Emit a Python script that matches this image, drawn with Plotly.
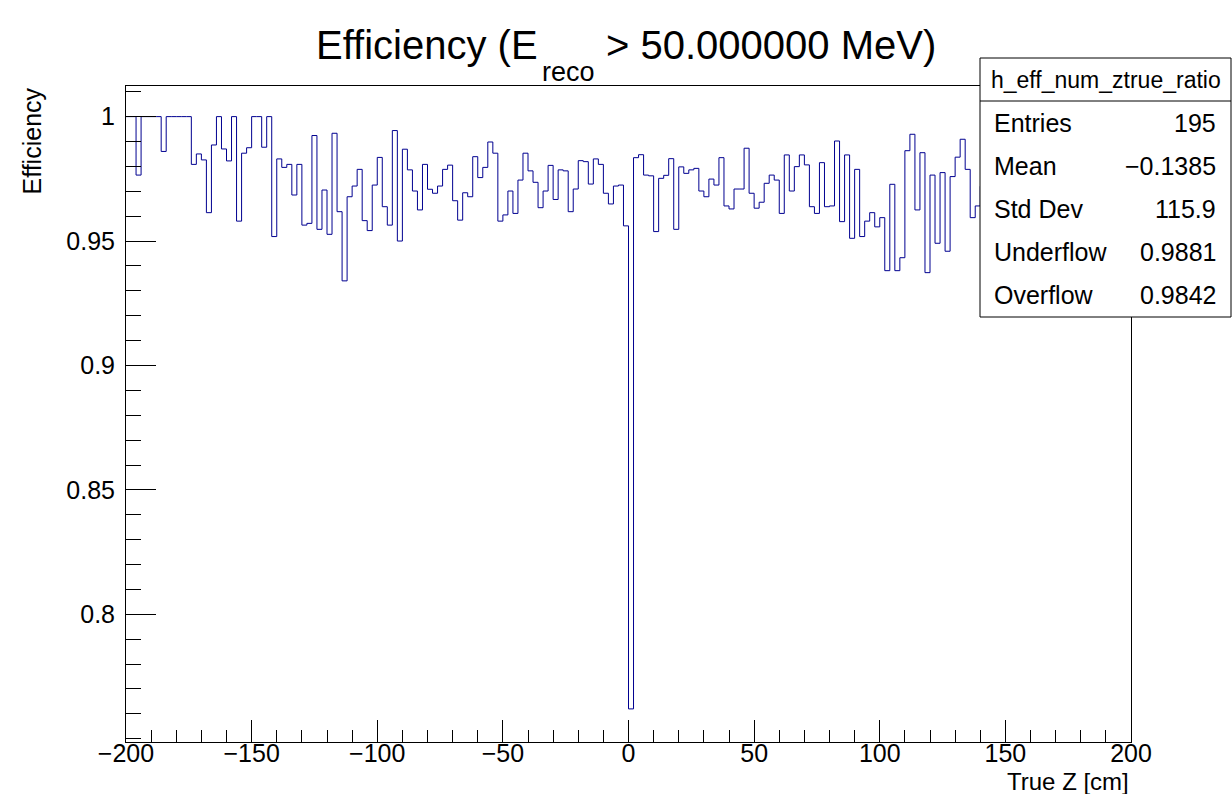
import numpy as np
import plotly.graph_objects as go

# ---------------- data ----------------
x_min, x_max, n_bins = -200.0, 200.0, 200

efficiency = [
    1.0, 1.0, 0.9765, 1.0, 1.0, 1.0, 1.0, 0.986, 1.0, 1.0,
    1.0, 1.0, 1.0, 0.9808, 0.985, 0.9826, 0.9614, 0.9886, 1.0, 0.987,
    0.9822, 1.0, 0.958, 0.9853, 0.9875, 1.0, 1.0, 0.9877, 1.0, 0.9518,
    0.983, 0.9796, 0.9808, 0.9685, 0.9808, 0.9564, 0.9571, 0.9924, 0.9547, 0.9705,
    0.9527, 0.9933, 0.9618, 0.934, 0.9678, 0.9721, 0.9788, 0.9582, 0.9542, 0.9725,
    0.9836, 0.9638, 0.9564, 0.9944, 0.95, 0.9869, 0.9786, 0.9701, 0.9625, 0.9808,
    0.9708, 0.9692, 0.9721, 0.9788, 0.9805, 0.9662, 0.9584, 0.9694, 0.9678, 0.9839,
    0.9755, 0.9796, 0.9898, 0.9853, 0.958, 0.9605, 0.9701, 0.9611, 0.9745, 0.9853,
    0.9782, 0.9736, 0.9634, 0.9701, 0.9804, 0.9667, 0.9786, 0.9782, 0.9618, 0.9709,
    0.9823, 0.9819, 0.9729, 0.983, 0.9808, 0.9692, 0.9649, 0.9721, 0.9725, 0.9561,
    0.762, 0.9835, 0.9847, 0.9765, 0.9762, 0.9538, 0.9752, 0.9764, 0.9831, 0.9547,
    0.9798, 0.9772, 0.9786, 0.9792, 0.9701, 0.9678, 0.9749, 0.9725, 0.9835, 0.9641,
    0.9629, 0.9709, 0.9709, 0.9873, 0.9692, 0.9632, 0.9656, 0.9732, 0.9765, 0.9745,
    0.9611, 0.9846, 0.9701, 0.9799, 0.9846, 0.9806, 0.9638, 0.9611, 0.9815, 0.9638,
    0.9641, 0.9902, 0.9578, 0.9846, 0.9511, 0.9788, 0.9518, 0.958, 0.9614, 0.9557,
    0.9594, 0.9381, 0.9728, 0.9381, 0.9433, 0.9863, 0.9929, 0.9625, 0.9855, 0.9373,
    0.9765, 0.9491, 0.9775, 0.9459, 0.9759, 0.9837, 0.9909, 0.9788, 0.9594, 0.9641,
    0.972, 0.981, 0.968, 0.977, 0.985, 0.974, 0.962, 0.979, 0.983, 0.971,
    0.976, 0.988, 0.969, 0.978, 0.982, 0.973, 0.986, 0.975, 0.98, 0.97,
    0.984, 0.977, 0.981, 0.972, 0.979, 0.986, 0.974, 0.983, 0.978, 0.98,
]

x_tick_values = [-200, -150, -100, -50, 0, 50, 100, 150, 200]
y_tick_values = [0.8, 0.85, 0.9, 0.95, 1.0]
y_tick_labels = ["0.8", "0.85", "0.9", "0.95", "1"]

stats_name = "h_eff_num_ztrue_ratio"
stats_labels = ["Entries", "Mean", "Std Dev", "Underflow", "Overflow"]
stats_values = ["195", "\u22120.1385", "115.9", "0.9881", "0.9842"]

title_main = "Efficiency (E"
title_sub = "reco"
title_rest = "> 50.000000 MeV)"
x_title = "True Z [cm]"
y_title = "Efficiency"

# ---------------- layout geometry (pixels) ----------------
W, H = 1232, 794
ML, MR, MT, MB = 126, 101, 86, 52
PW, PH = W - ML - MR, H - MT - MB
FONT = "Liberation Sans, Arial, Helvetica, sans-serif"
LINE_COLOR = "#000090"


def px(x):
    return (x - ML) / PW


def py(y):
    return (H - MB - y) / PH


edges = np.linspace(x_min, x_max, n_bins + 1)
yvals = list(efficiency) + [efficiency[-1]]

fig = go.Figure()
fig.add_trace(go.Scatter(
    x=edges, y=yvals, mode="lines", line_shape="hv",
    line=dict(color=LINE_COLOR, width=1), hoverinfo="skip", showlegend=False,
))

shapes = []
annotations = []

# stats box
bx0, bx1, by0, by1, bsep = 980, 1231, 58, 317, 101
shapes.append(dict(type="rect", xref="paper", yref="paper",
                   x0=px(bx0), x1=px(bx1), y0=py(by1), y1=py(by0),
                   fillcolor="white", line=dict(color="black", width=1), layer="above"))
shapes.append(dict(type="line", xref="paper", yref="paper",
                   x0=px(bx0), x1=px(bx1), y0=py(bsep), y1=py(bsep),
                   line=dict(color="black", width=1), layer="above"))
annotations.append(dict(text=stats_name, xref="paper", yref="paper",
                        x=px((bx0 + bx1) / 2), y=py(80), xanchor="center", yanchor="middle",
                        showarrow=False, font=dict(family=FONT, size=23, color="black")))
row_y = [123, 166, 209, 252, 295]
for lab, val, yy in zip(stats_labels, stats_values, row_y):
    annotations.append(dict(text=lab, xref="paper", yref="paper", x=px(992), y=py(yy),
                            xanchor="left", yanchor="middle", showarrow=False,
                            font=dict(family=FONT, size=25, color="black")))
    annotations.append(dict(text=val, xref="paper", yref="paper", x=px(1218), y=py(yy),
                            xanchor="right", yanchor="middle", showarrow=False,
                            font=dict(family=FONT, size=25, color="black")))

# title (with ROOT-style low subscript)
annotations.append(dict(text=title_main, xref="paper", yref="paper", x=px(540), y=py(45),
                        xanchor="right", yanchor="middle", showarrow=False,
                        font=dict(family=FONT, size=40, color="black")))
annotations.append(dict(text=title_sub, xref="paper", yref="paper", x=px(540), y=py(72),
                        xanchor="left", yanchor="middle", showarrow=False,
                        font=dict(family=FONT, size=27, color="black")))
annotations.append(dict(text=title_rest, xref="paper", yref="paper", x=px(604), y=py(45),
                        xanchor="left", yanchor="middle", showarrow=False,
                        font=dict(family=FONT, size=40, color="black")))

# axis titles
annotations.append(dict(text=x_title, xref="paper", yref="paper", x=1.0, y=py(797),
                        xanchor="right", yanchor="bottom", showarrow=False,
                        font=dict(family=FONT, size=24, color="black")))
annotations.append(dict(text=y_title, xref="paper", yref="paper", x=px(31), y=1.0,
                        xanchor="center", yanchor="top", textangle=-90, showarrow=False,
                        font=dict(family=FONT, size=25, color="black")))

fig.update_layout(
    width=W, height=H,
    margin=dict(l=ML, r=MR, t=MT, b=MB, pad=0),
    paper_bgcolor="white", plot_bgcolor="white",
    font=dict(family=FONT, size=25, color="black"),
    shapes=shapes, annotations=annotations,
    xaxis=dict(
        range=[x_min, x_max], tickmode="array", tickvals=x_tick_values,
        ticks="inside", ticklen=22, tickwidth=1, tickcolor="black",
        ticklabelstandoff=-11,
        minor=dict(ticks="inside", ticklen=12, tickmode="linear", tick0=-200, dtick=10,
                   tickcolor="black", tickwidth=1, showgrid=False),
        showline=True, mirror=True, linecolor="black", linewidth=1,
        showgrid=False, zeroline=False, tickfont=dict(family=FONT, size=25),
    ),
    yaxis=dict(
        range=[0.7487, 1.0123], tickmode="array", tickvals=y_tick_values, ticktext=y_tick_labels,
        ticks="inside", ticklen=30, tickwidth=1, tickcolor="black",
        ticklabelstandoff=5,
        minor=dict(ticks="inside", ticklen=15, tickmode="linear", tick0=0, dtick=0.01,
                   tickcolor="black", tickwidth=1, showgrid=False),
        showline=True, mirror=True, linecolor="black", linewidth=1,
        showgrid=False, zeroline=False, tickfont=dict(family=FONT, size=25),
    ),
)

fig.write_html("out.html")
